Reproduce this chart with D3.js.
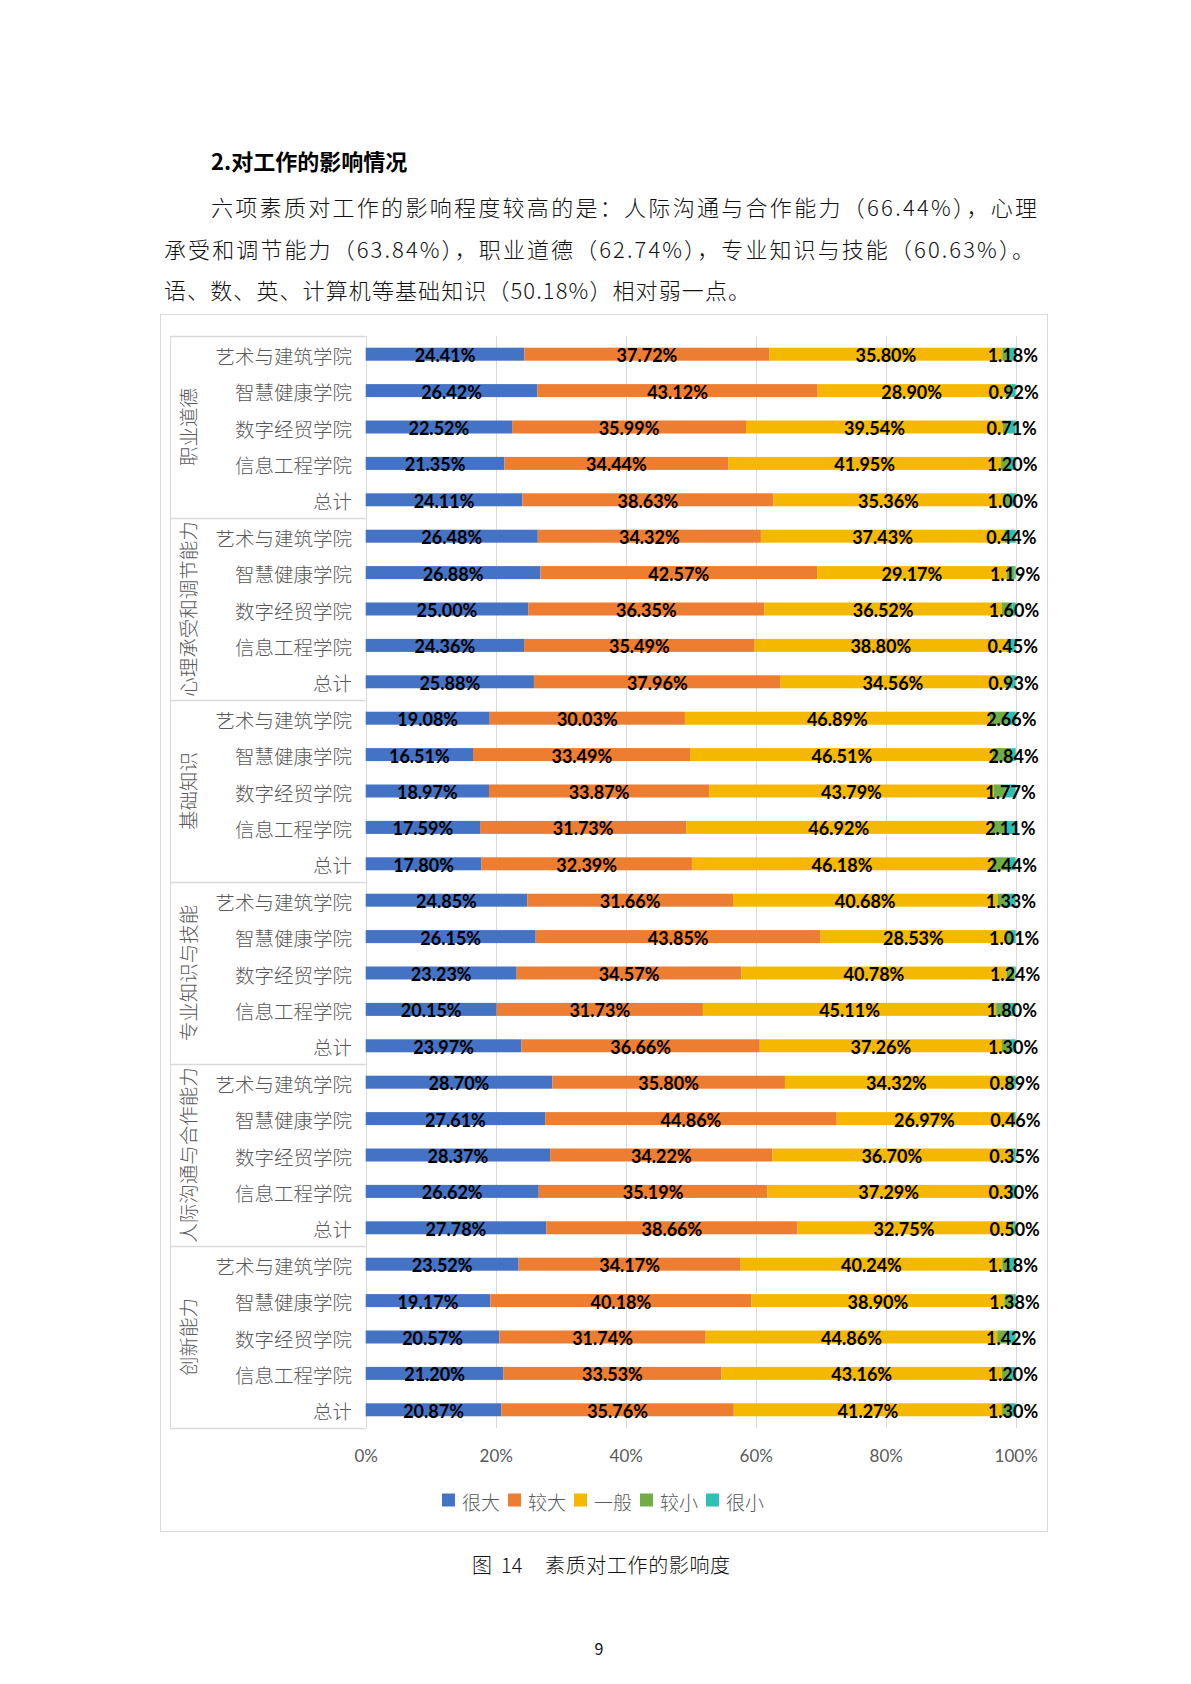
<!DOCTYPE html>
<html>
<head>
<meta charset="utf-8">
<script src="https://cdn.jsdelivr.net/npm/d3@7"></script>
<style>
  body { margin: 0; background: #fff; }
  svg { display: block; }
</style>
</head>
<body>
<div id="page"></div>
<script>
const groups = ['职业道德', '心理承受和调节能力', '基础知识', '专业知识与技能', '人际沟通与合作能力', '创新能力']
const colleges = ['艺术与建筑学院', '智慧健康学院', '数字经贸学院', '信息工程学院', '总计']
const levels = ['很大', '较大', '一般', '较小', '很小']
const colors = ['#4472C4', '#ED7D31', '#F5B800', '#70AD47', '#2EC0B2']

const henDa = [
  24.41, 26.42, 22.52, 21.35, 24.11,
  26.48, 26.88, 25.00, 24.36, 25.88,
  19.08, 16.51, 18.97, 17.59, 17.80,
  24.85, 26.15, 23.23, 20.15, 23.97,
  28.70, 27.61, 28.37, 26.62, 27.78,
  23.52, 19.17, 20.57, 21.20, 20.87,
]
const jiaoDa = [
  37.72, 43.12, 35.99, 34.44, 38.63,
  34.32, 42.57, 36.35, 35.49, 37.96,
  30.03, 33.49, 33.87, 31.73, 32.39,
  31.66, 43.85, 34.57, 31.73, 36.66,
  35.80, 44.86, 34.22, 35.19, 38.66,
  34.17, 40.18, 31.74, 33.53, 35.76,
]
const yiBan = [
  35.80, 28.90, 39.54, 41.95, 35.36,
  37.43, 29.17, 36.52, 38.80, 34.56,
  46.89, 46.51, 43.79, 46.92, 46.18,
  40.68, 28.53, 40.78, 45.11, 37.26,
  34.32, 26.97, 36.70, 37.29, 32.75,
  40.24, 38.90, 44.86, 43.16, 41.27,
]
const jiaoXiao = [
  1.18, 0.92, 0.71, 1.20, 1.00,
  0.44, 1.19, 1.60, 0.45, 0.93,
  2.66, 2.84, 1.77, 2.11, 2.44,
  1.33, 1.01, 1.24, 1.80, 1.30,
  0.89, 0.46, 0.35, 0.30, 0.50,
  1.18, 1.38, 1.42, 1.20, 1.30,
]
// no labels for this one in the picture, widths read off the teal bits
const henXiao = [
  0.89, 0.64, 1.24, 1.06, 0.90,
  1.33, 0.19, 0.53, 0.90, 0.67,
  1.34, 0.65, 1.60, 1.65, 1.19,
  1.48, 0.46, 0.18, 1.21, 0.81,
  0.29, 0.10, 0.36, 0.60, 0.31,
  0.89, 0.37, 1.41, 0.91, 0.80,
]
const tickValues = [0, 20, 40, 60, 80, 100]

const heading = '2.对工作的影响情况'
const paragraph = [
  '六项素质对工作的影响程度较高的是：人际沟通与合作能力（66.44%），心理',
  '承受和调节能力（63.84%），职业道德（62.74%），专业知识与技能（60.63%）。',
  '语、数、英、计算机等基础知识（50.18%）相对弱一点。',
]
const caption = ['图', '14', '素质对工作的影响度']
const pageNo = '9'

const W = 1191
const H = 1684
const cjk = '"Noto Sans CJK SC", "Noto Sans", sans-serif'
const gray = '#595959'
const lineColor = '#d9d9d9'

const rows = groups.flatMap((g, gi) => colleges.map((c, ci) => ({
  key: `${gi}-${ci}`,
  group: g,
  college: c,
})))
const table = rows.map((r, i) => ({
  key: r.key,
  很大: henDa[i],
  较大: jiaoDa[i],
  一般: yiBan[i],
  较小: jiaoXiao[i],
  很小: henXiao[i],
}))
const series = d3.stack().keys(levels)(table)

const svg = d3.select('#page')
  .append('svg')
  .attr('width', W)
  .attr('height', H)

// text above the chart
svg.append('text')
  .attr('x', 211)
  .attr('y', 160)
  .attr('dominant-baseline', 'central')
  .style('font-family', cjk)
  .style('font-size', '22px')
  .style('font-weight', 'bold')
  .text(heading)

const paraX = [211, 164, 164]
const paraW = [826, 870, 586]
svg.selectAll('.para')
  .data(paragraph)
  .enter()
  .append('text')
  .attr('class', 'para')
  .attr('x', (d, i) => paraX[i])
  .attr('y', (d, i) => 206 + i * 41.5)
  .attr('dominant-baseline', 'central')
  .attr('textLength', (d, i) => paraW[i])
  .attr('lengthAdjust', 'spacing')
  .style('font-family', cjk)
  .style('font-size', '22px')
  .style('font-weight', 300)
  .style('fill', '#111')
  .text((d) => d)

// chart frame
svg.append('rect')
  .attr('x', 160.5)
  .attr('y', 314.5)
  .attr('width', 887)
  .attr('height', 1217)
  .attr('fill', 'none')
  .attr('stroke', lineColor)

const x = d3.scaleLinear().domain([0, 100]).range([365.7, 1015.7])
const y = d3.scaleBand()
  .domain(rows.map((r) => r.key))
  .range([336, 1428])
  .paddingInner(0.643)
  .paddingOuter(0.3215)
const color = d3.scaleOrdinal().domain(levels).range(colors)

const groupY = d3.scaleLinear().domain([0, groups.length]).range([336, 1428])

// gridlines
svg.append('g')
  .selectAll('line')
  .data(tickValues)
  .enter()
  .append('line')
  .attr('x1', (d) => Math.round(x(d)) + 0.5)
  .attr('x2', (d) => Math.round(x(d)) + 0.5)
  .attr('y1', groupY(0))
  .attr('y2', groupY(groups.length))
  .attr('stroke', lineColor)

// category panel
const panel = svg.append('g')
panel.selectAll('.sep')
  .data(d3.range(groups.length + 1))
  .enter()
  .append('line')
  .attr('x1', 170)
  .attr('x2', x(0))
  .attr('y1', (d) => Math.round(groupY(d)) + 0.5)
  .attr('y2', (d) => Math.round(groupY(d)) + 0.5)
  .attr('stroke', lineColor)
  .attr('stroke-width', 1.5)
panel.append('line')
  .attr('x1', 170.5)
  .attr('x2', 170.5)
  .attr('y1', groupY(0))
  .attr('y2', groupY(groups.length))
  .attr('stroke', lineColor)

panel.selectAll('.college')
  .data(rows)
  .enter()
  .append('text')
  .attr('class', 'college')
  .attr('x', 352)
  .attr('y', (d) => y(d.key) + y.bandwidth() / 2 + 1)
  .attr('text-anchor', 'end')
  .attr('dominant-baseline', 'central')
  .style('font-family', cjk)
  .style('font-size', '19.5px')
  .style('font-weight', 300)
  .style('fill', gray)
  .text((d) => d.college)

panel.selectAll('.group')
  .data(groups)
  .enter()
  .append('text')
  .attr('class', 'group')
  .attr('transform', (d, i) => `translate(187, ${(groupY(i) + groupY(i + 1)) / 2}) rotate(-90)`)
  .attr('text-anchor', 'middle')
  .attr('dominant-baseline', 'central')
  .style('font-family', cjk)
  .style('font-size', '19.5px')
  .style('font-weight', 300)
  .style('fill', gray)
  .text((d) => d)

// bars
const layer = svg.append('g')
  .selectAll('g')
  .data(series)
  .enter()
  .append('g')
  .attr('fill', (d) => color(d.key))

layer.selectAll('rect')
  .data((d) => d)
  .enter()
  .append('rect')
  .attr('x', (d) => x(d[0]))
  .attr('width', (d) => x(d[1]) - x(d[0]))
  .attr('y', (d) => y(d.data.key))
  .attr('height', y.bandwidth())

// data labels
const labelData = []
series.slice(0, 4).forEach((s, si) => {
  s.forEach((d, i) => {
    // the 较小 label sits at the far end, over the teal piece
    const seg = si === 3 ? series[4][i] : d
    labelData.push({
      value: d.data[s.key],
      cx: x((seg[0] + seg[1]) / 2),
      cy: y(d.data.key) + y.bandwidth() / 2,
    })
  })
})

svg.append('g')
  .selectAll('text')
  .data(labelData)
  .enter()
  .append('text')
  .attr('x', (d) => d.cx)
  .attr('y', (d) => d.cy + 1)
  .attr('text-anchor', 'middle')
  .attr('dominant-baseline', 'central')
  .style('font-family', 'Lato, "Open Sans", sans-serif')
  .style('font-size', '18px')
  .style('font-weight', 'bold')
  .style('fill', '#000')
  .text((d) => `${d.value.toFixed(2)}%`)

// x axis
const axis = svg.append('g')
  .attr('transform', 'translate(0, 1455)')
  .call(d3.axisBottom(x)
    .tickValues(tickValues)
    .tickSize(0)
    .tickPadding(0)
    .tickFormat((d) => `${d}%`))
axis.select('.domain').remove()
axis.selectAll('text')
  .attr('y', 0)
  .attr('dy', null)
  .attr('dominant-baseline', 'central')
  .style('font-family', 'Lato, "Open Sans", sans-serif')
  .style('font-size', '17px')
  .style('fill', gray)

// legend
const legend = svg.append('g')
  .selectAll('g')
  .data(levels)
  .enter()
  .append('g')
  .attr('transform', (d, i) => `translate(${442 + i * 66}, 1500)`)

legend.append('rect')
  .attr('x', 0)
  .attr('y', -6.5)
  .attr('width', 13)
  .attr('height', 13)
  .attr('fill', (d) => color(d))

legend.append('text')
  .attr('x', 20)
  .attr('y', 1)
  .attr('dominant-baseline', 'central')
  .style('font-family', cjk)
  .style('font-size', '19px')
  .style('font-weight', 300)
  .style('fill', gray)
  .text((d) => d)

// caption and page number
const cap = svg.append('text')
  .attr('y', 1564)
  .attr('dominant-baseline', 'central')
  .style('font-family', cjk)
  .style('font-size', '20px')
  .style('font-weight', 300)
  .style('fill', '#111')
cap.append('tspan').attr('x', 472).text(caption[0])
cap.append('tspan').attr('x', 501).text(caption[1])
cap.append('tspan').attr('x', 545).attr('textLength', 185).text(caption[2])

svg.append('text')
  .attr('x', 599)
  .attr('y', 1648)
  .attr('text-anchor', 'middle')
  .attr('dominant-baseline', 'central')
  .style('font-family', cjk)
  .style('font-size', '16px')
  .style('fill', '#111')
  .text(pageNo)
</script>
</body>
</html>
